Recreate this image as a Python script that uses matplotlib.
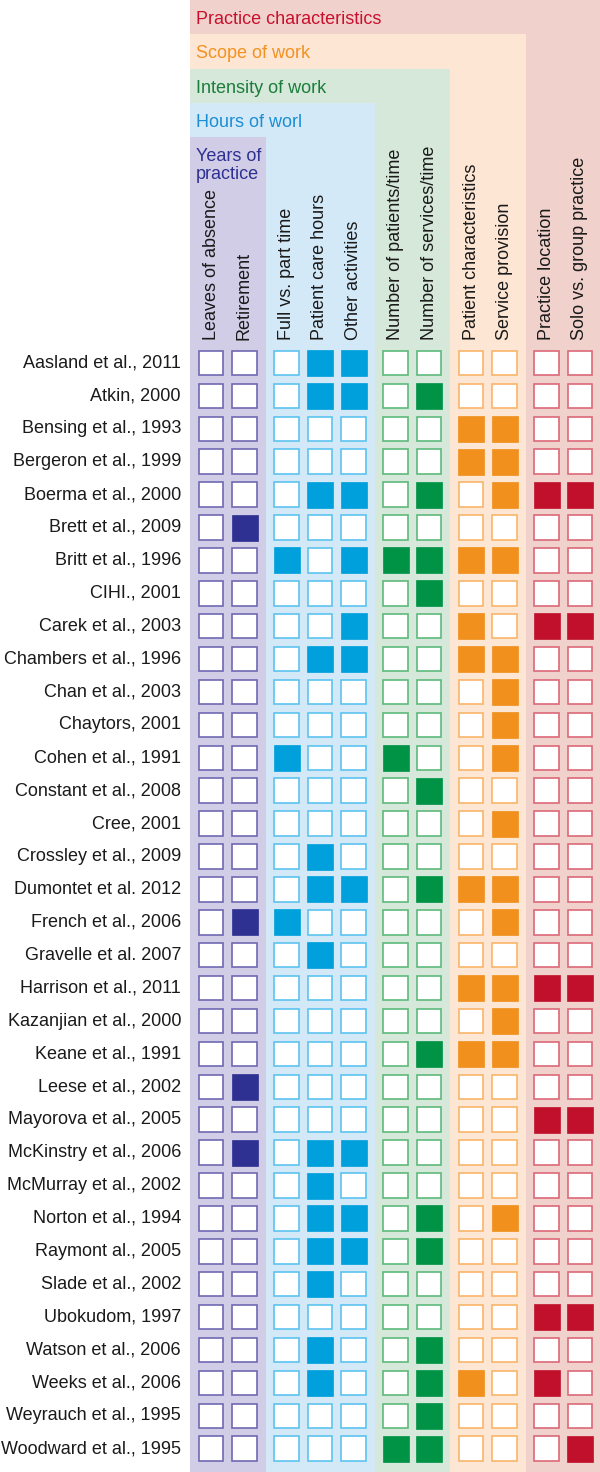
import matplotlib
matplotlib.use("Agg")
import matplotlib.pyplot as plt
from matplotlib.patches import Rectangle

plt.rcParams['font.family'] = ['Liberation Sans', 'DejaVu Sans']

# Data
studies = ["Aasland et al., 2011", "Atkin, 2000", "Bensing et al., 1993",
           "Bergeron et al., 1999", "Boerma et al., 2000", "Brett et al., 2009",
           "Britt et al., 1996", "CIHI., 2001", "Carek et al., 2003",
           "Chambers et al., 1996", "Chan et al., 2003", "Chaytors, 2001",
           "Cohen et al., 1991", "Constant et al., 2008", "Cree, 2001",
           "Crossley et al., 2009", "Dumontet et al. 2012", "French et al., 2006",
           "Gravelle et al. 2007", "Harrison et al., 2011", "Kazanjian et al., 2000",
           "Keane et al., 1991", "Leese et al., 2002", "Mayorova et al., 2005",
           "McKinstry et al., 2006", "McMurray et al., 2002", "Norton et al., 1994",
           "Raymont al., 2005", "Slade et al., 2002", "Ubokudom, 1997",
           "Watson et al., 2006", "Weeks et al., 2006", "Weyrauch et al., 1995",
           "Woodward et al., 1995"]

columns = ["Leaves of absence", "Retirement",
           "Full vs. part time", "Patient care hours", "Other activities",
           "Number of patients/time", "Number of services/time",
           "Patient characteristics", "Service provision",
           "Practice location", "Solo vs. group practice"]

# group index of each column
col_group = [0, 0, 1, 1, 1, 2, 2, 3, 3, 4, 4]

# title lines of each group (innermost first)
group_titles = [["Years of", "practice"], ["Hours of worl"], ["Intensity of work"],
                ["Scope of work"], ["Practice characteristics"]]

# 1 = filled box
marks = [
    [0, 0, 0, 1, 1, 0, 0, 0, 0, 0, 0],  # Aasland
    [0, 0, 0, 1, 1, 0, 1, 0, 0, 0, 0],  # Atkin
    [0, 0, 0, 0, 0, 0, 0, 1, 1, 0, 0],  # Bensing
    [0, 0, 0, 0, 0, 0, 0, 1, 1, 0, 0],  # Bergeron
    [0, 0, 0, 1, 1, 0, 1, 0, 1, 1, 1],  # Boerma
    [0, 1, 0, 0, 0, 0, 0, 0, 0, 0, 0],  # Brett
    [0, 0, 1, 0, 1, 1, 1, 1, 1, 0, 0],  # Britt
    [0, 0, 0, 0, 0, 0, 1, 0, 0, 0, 0],  # CIHI
    [0, 0, 0, 0, 1, 0, 0, 1, 0, 1, 1],  # Carek
    [0, 0, 0, 1, 1, 0, 0, 1, 1, 0, 0],  # Chambers
    [0, 0, 0, 0, 0, 0, 0, 0, 1, 0, 0],  # Chan
    [0, 0, 0, 0, 0, 0, 0, 0, 1, 0, 0],  # Chaytors
    [0, 0, 1, 0, 0, 1, 0, 0, 1, 0, 0],  # Cohen
    [0, 0, 0, 0, 0, 0, 1, 0, 0, 0, 0],  # Constant
    [0, 0, 0, 0, 0, 0, 0, 0, 1, 0, 0],  # Cree
    [0, 0, 0, 1, 0, 0, 0, 0, 0, 0, 0],  # Crossley
    [0, 0, 0, 1, 1, 0, 1, 1, 1, 0, 0],  # Dumontet
    [0, 1, 1, 0, 0, 0, 0, 0, 1, 0, 0],  # French
    [0, 0, 0, 1, 0, 0, 0, 0, 0, 0, 0],  # Gravelle
    [0, 0, 0, 0, 0, 0, 0, 1, 1, 1, 1],  # Harrison
    [0, 0, 0, 0, 0, 0, 0, 0, 1, 0, 0],  # Kazanjian
    [0, 0, 0, 0, 0, 0, 1, 1, 1, 0, 0],  # Keane
    [0, 1, 0, 0, 0, 0, 0, 0, 0, 0, 0],  # Leese
    [0, 0, 0, 0, 0, 0, 0, 0, 0, 1, 1],  # Mayorova
    [0, 1, 0, 1, 1, 0, 0, 0, 0, 0, 0],  # McKinstry
    [0, 0, 0, 1, 0, 0, 0, 0, 0, 0, 0],  # McMurray
    [0, 0, 0, 1, 1, 0, 1, 0, 1, 0, 0],  # Norton
    [0, 0, 0, 1, 1, 0, 1, 0, 0, 0, 0],  # Raymont
    [0, 0, 0, 1, 0, 0, 0, 0, 0, 0, 0],  # Slade
    [0, 0, 0, 0, 0, 0, 0, 0, 0, 1, 1],  # Ubokudom
    [0, 0, 0, 1, 0, 0, 1, 0, 0, 0, 0],  # Watson
    [0, 0, 0, 1, 0, 0, 1, 1, 0, 1, 0],  # Weeks
    [0, 0, 0, 0, 0, 0, 1, 0, 0, 0, 0],  # Weyrauch
    [0, 0, 0, 0, 0, 1, 1, 0, 0, 0, 1],  # Woodward
]

# Styles per group: fill, edge of empty box, background, title colour
fill_col = ["#2e3192", "#00a0dc", "#009245", "#f1901c", "#c0102b"]
edge_col = ["#6f69b3", "#5cc3ef", "#5cba7b", "#f9b56a", "#dd6878"]
bg_col = ["#d1cde6", "#d4e9f8", "#d5e8d9", "#fde6d3", "#f1d1cc"]
title_col = ["#2e3192", "#1b8fd2", "#1b7d3b", "#f39121", "#c8102e"]

# Layout (pixels)
W, H = 600, 1472
x0 = 211          # first column centre
pitch_in = 33.5   # spacing inside a group
pitch_gap = 42    # spacing between groups
y0 = 363          # first row centre
row_h = 32.9
box = 26
panel_left = 190
panel_step = 34.3

col_x = []
x = x0
for i in range(len(columns)):
    if i > 0:
        x += pitch_in if col_group[i] == col_group[i - 1] else pitch_gap
    col_x.append(x)

fig = plt.figure(figsize=(W / 100, H / 100), dpi=100)
ax = fig.add_axes([0, 0, 1, 1])
ax.set_xlim(0, W)
ax.set_ylim(H, 0)
ax.axis('off')

# nested background panels, outermost first
n_groups = len(group_titles)
for g in reversed(range(n_groups)):
    last = max(i for i in range(len(columns)) if col_group[i] == g)
    right = W if g == n_groups - 1 else col_x[last] + 21
    top = (n_groups - 1 - g) * panel_step
    ax.add_patch(Rectangle((panel_left, top), right - panel_left, H - top,
                           facecolor=bg_col[g], edgecolor='none', zorder=0))
    for k, line in enumerate(group_titles[g]):
        ax.text(panel_left + 6, top + 24 + k * 17.5, line, color=title_col[g],
                fontsize=13, ha='left', va='baseline', zorder=3)

# column headers
for i, name in enumerate(columns):
    ax.text(col_x[i], 340, name, rotation=90, fontsize=13, color='#1a1a1a',
            ha='center', va='bottom', zorder=3)

# rows
for r, study in enumerate(studies):
    y = y0 + r * row_h
    ax.text(181, y, study, fontsize=13, color='#1a1a1a', ha='right',
            va='center', zorder=3)
    for i in range(len(columns)):
        g = col_group[i]
        if marks[r][i]:
            ax.add_patch(Rectangle((col_x[i] - box / 2, y - box / 2), box, box,
                                   facecolor=fill_col[g], edgecolor=fill_col[g],
                                   linewidth=0.5, zorder=2))
        else:
            ax.add_patch(Rectangle((col_x[i] - box / 2 + 0.75, y - box / 2 + 0.75),
                                   box - 1.5, box - 1.5,
                                   facecolor='white', edgecolor=edge_col[g],
                                   linewidth=1.2, zorder=2))

fig.savefig("out.png", dpi=100, facecolor='white')
